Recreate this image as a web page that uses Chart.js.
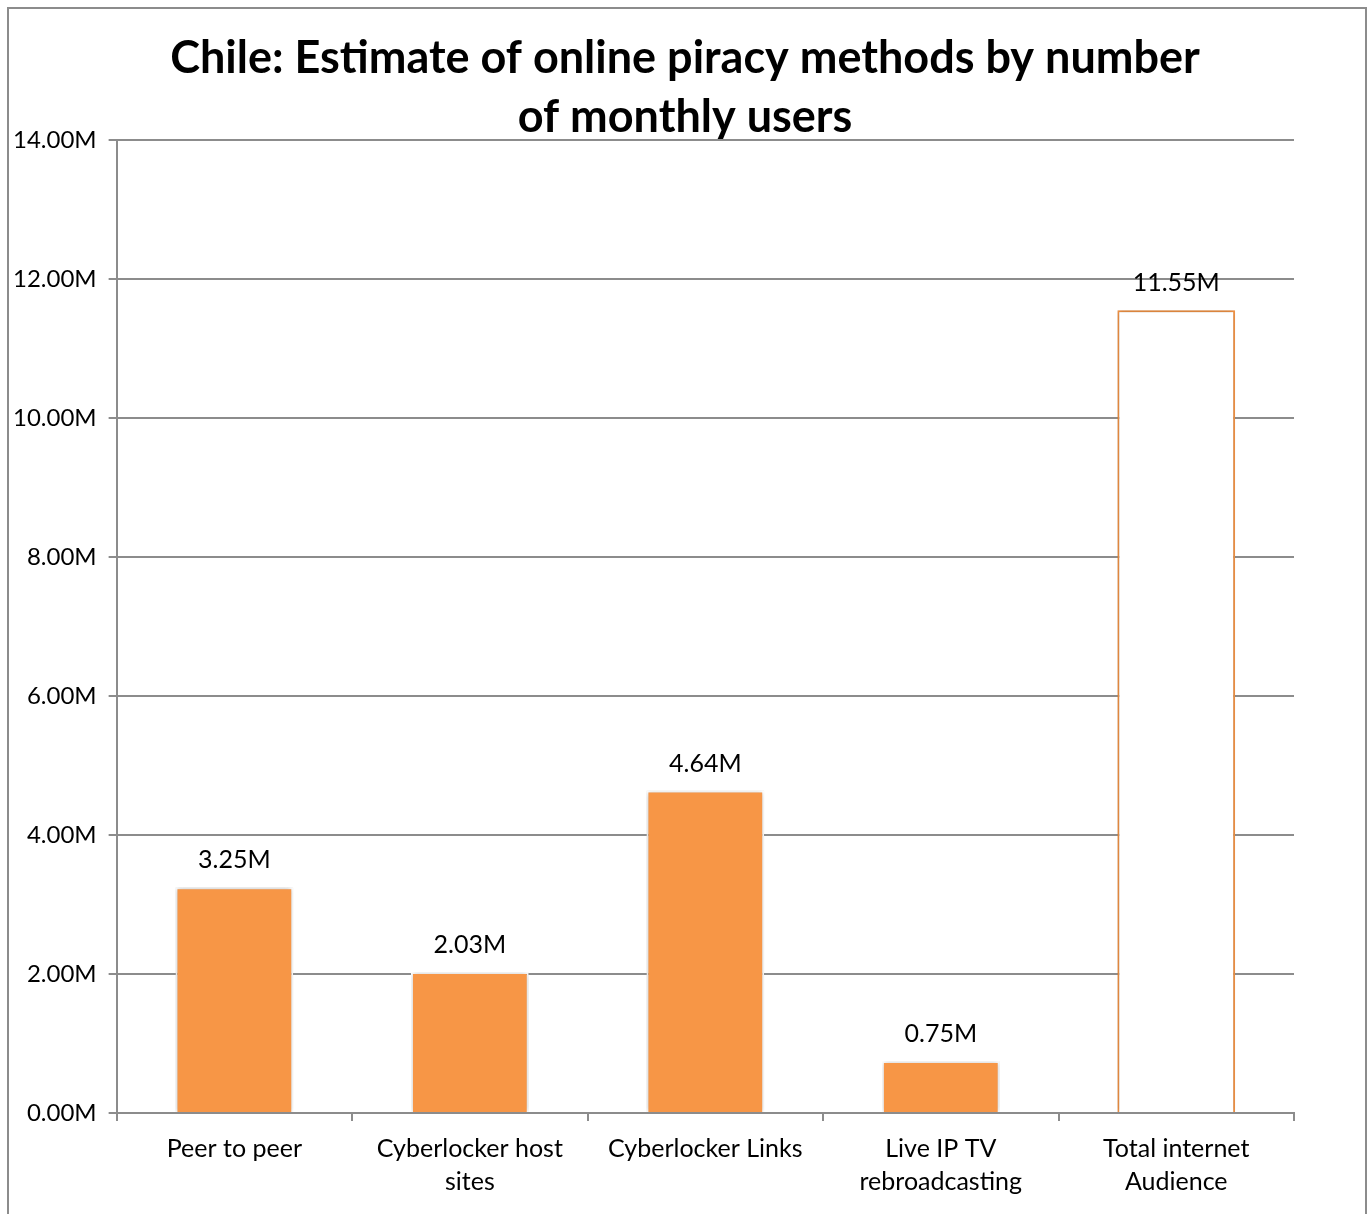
<!DOCTYPE html>
<html>
<head>
<meta charset="utf-8">
<script src="https://cdn.jsdelivr.net/npm/chart.js@4"></script>
<style>
  html, body { margin: 0; padding: 0; background: #fff; }
  #wrap { width: 1370px; height: 1214px; }
</style>
</head>
<body>
<div id="wrap"><canvas id="barChart"></canvas></div>
<script>
// categories and monthly users (millions)
var categories = [
    'Peer to peer',
    ['Cyberlocker host', 'sites'],
    'Cyberlocker Links',
    ['Live IP TV', 'rebroadcasting'],
    ['Total internet', 'Audience']
];
var users = [3.25, 2.03, 4.64, 0.75, 11.55];
var yTicks = [0, 2, 4, 6, 8, 10, 12, 14];
var titleLines = ['Chile: Estimate of online piracy methods by number', 'of monthly users'];

var orange = '#F79646';
var gridGray = '#8c8c8c';
var fontFamily = 'Lato, "Open Sans", sans-serif';

// last bar (total audience) is drawn hollow
var fills = users.map((v, i) => i === users.length - 1 ? '#ffffff' : orange);
var borders = users.map((v, i) => i === users.length - 1 ? orange : '#ffffff');

// outer frame round the whole chart, plus the title centred on the canvas
var framePlugin = {
    id: 'frame',
    beforeDraw: function(chart) {
        var ctx = chart.ctx;
        ctx.save();
        ctx.strokeStyle = '#8c8c8c';
        ctx.lineWidth = 2;
        ctx.strokeRect(8, 8, 1358, 1240);
        ctx.fillStyle = '#000';
        ctx.font = 'bold 45px ' + fontFamily;
        ctx.textAlign = 'center';
        ctx.textBaseline = 'middle';
        ctx.fillText(titleLines[0], chart.width / 2, 58);
        ctx.fillText(titleLines[1], chart.width / 2, 117);
        ctx.restore();
    }
};

// soft shadow under the bars
var shadowPlugin = {
    id: 'barShadow',
    beforeDatasetDraw: function(chart) {
        var ctx = chart.ctx;
        ctx.save();
        ctx.shadowColor = 'rgba(0,0,0,0.28)';
        ctx.shadowBlur = 5;
        ctx.shadowOffsetX = 0;
        ctx.shadowOffsetY = 0;
    },
    afterDatasetDraw: function(chart) {
        chart.ctx.restore();
    }
};

// value labels above each bar
var valueLabels = {
    id: 'valueLabels',
    afterDatasetsDraw: function(chart) {
        var ctx = chart.ctx;
        var meta = chart.getDatasetMeta(0);
        ctx.save();
        ctx.fillStyle = '#000';
        ctx.font = '25px ' + fontFamily;
        ctx.textAlign = 'center';
        ctx.textBaseline = 'middle';
        meta.data.forEach(function(bar, i) {
            ctx.fillText(users[i].toFixed(2) + 'M', bar.x, bar.y - 27);
        });
        ctx.restore();
    }
};

var ctx = document.getElementById('barChart').getContext('2d');
var chart = new Chart(ctx, {
    type: 'bar',
    data: {
        labels: categories,
        datasets: [{
            data: users,
            backgroundColor: fills,
            borderColor: borders,
            borderWidth: 2,
            barPercentage: 0.5,
            categoryPercentage: 1.0
        }]
    },
    options: {
        responsive: true,
        maintainAspectRatio: false,
        animation: false,
        layout: {
            padding: { top: 140, left: 1, right: 76, bottom: 4 }
        },
        plugins: {
            legend: { display: false },
            tooltip: { enabled: false },
            title: { display: false }
        },
        scales: {
            x: {
                offset: true,
                grid: {
                    offset: true,
                    drawOnChartArea: false,
                    drawTicks: true,
                    tickLength: 8,
                    color: gridGray,
                    lineWidth: 2
                },
                border: { color: gridGray, width: 2 },
                ticks: {
                    color: '#000',
                    font: { family: fontFamily, size: 25, lineHeight: 1.3 },
                    padding: 12,
                    maxRotation: 0,
                    autoSkip: false
                }
            },
            y: {
                min: 0,
                max: 14,
                afterBuildTicks: function(axis) {
                    axis.ticks = yTicks.map(v => ({ value: v }));
                },
                grid: {
                    color: gridGray,
                    lineWidth: 2,
                    tickLength: 8
                },
                border: { color: gridGray, width: 2 },
                ticks: {
                    color: '#000',
                    font: { family: fontFamily, size: 24 },
                    padding: 12,
                    callback: function(v) { return v.toFixed(2) + 'M'; }
                }
            }
        }
    },
    plugins: [framePlugin, shadowPlugin, valueLabels]
});
</script>
</body>
</html>
